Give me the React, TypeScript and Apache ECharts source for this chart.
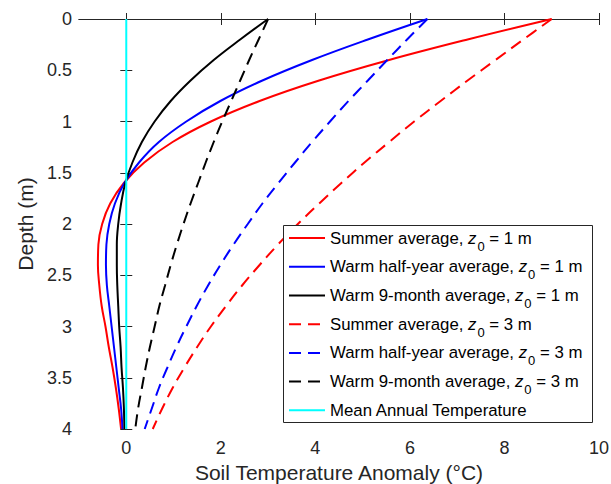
import React, { useEffect, useRef } from "react";
import * as echarts from "echarts";

// Depth (m) of each sampled point
const depths = [0, 0.2, 0.4, 0.6, 0.8, 1.0, 1.2, 1.4, 1.6, 1.8, 2.0, 2.2, 2.4, 2.6, 2.8, 3.0, 3.2, 3.4, 3.6, 3.8, 4.0];

// Soil temperature anomaly (°C), z0 = 1 m
const summer1 = [9.0, 7.22, 5.56, 4.08, 2.82, 1.79, 0.98, 0.38, -0.05, -0.34, -0.51, -0.59, -0.6, -0.57, -0.52, -0.44, -0.37, -0.29, -0.22, -0.16, -0.11];
const halfYear1 = [6.37, 5.11, 3.93, 2.88, 1.99, 1.27, 0.69, 0.27, -0.04, -0.24, -0.36, -0.42, -0.43, -0.41, -0.36, -0.31, -0.26, -0.21, -0.16, -0.11, -0.08];
const nineMonth1 = [3.0, 2.41, 1.85, 1.36, 0.94, 0.6, 0.33, 0.13, -0.02, -0.11, -0.17, -0.2, -0.2, -0.19, -0.17, -0.15, -0.12, -0.1, -0.07, -0.05, -0.04];

// Soil temperature anomaly (°C), z0 = 3 m
const summer3 = [9.0, 8.4, 7.81, 7.22, 6.65, 6.09, 5.56, 5.04, 4.55, 4.08, 3.63, 3.21, 2.82, 2.45, 2.11, 1.79, 1.5, 1.23, 0.98, 0.76, 0.56];
const halfYear3 = [6.37, 5.94, 5.52, 5.11, 4.7, 4.31, 3.93, 3.57, 3.22, 2.88, 2.57, 2.27, 1.99, 1.73, 1.49, 1.27, 1.06, 0.87, 0.69, 0.54, 0.39];
const nineMonth3 = [3.0, 2.8, 2.6, 2.41, 2.22, 2.03, 1.85, 1.68, 1.52, 1.36, 1.21, 1.07, 0.94, 0.82, 0.7, 0.6, 0.5, 0.41, 0.33, 0.25, 0.19];

// Mean annual temperature line
const meanDepths = [0, 4];
const meanValues = [0, 0];

const xTicks = [0, 2, 4, 6, 8, 10];

const seriesNames = [
  "Summer average, z0 = 1 m",
  "Warm half-year average, z0 = 1 m",
  "Warm 9-month average, z0 = 1 m",
  "Summer average, z0 = 3 m",
  "Warm half-year average, z0 = 3 m",
  "Warm 9-month average, z0 = 3 m",
  "Mean Annual Temperature",
];
const seriesColors = ["#ff0000", "#0000ff", "#000000", "#ff0000", "#0000ff", "#000000", "#00ffff"];
const seriesDashed = [false, false, false, true, true, true, false];

const AXIS = "#262626";
const FONT = "'Liberation Sans', Arial, Helvetica, sans-serif";
const LH = 28.2;

export default function App() {
  const ref = useRef<HTMLDivElement>(null);
  useEffect(() => {
    if (!ref.current) return;
    const chart = echarts.init(ref.current, null, { renderer: "svg" });
    const pair = (vals: number[], ds: number[]) => ds.map((d, i) => [vals[i], d]);
    const dash = [12, 7];
    const lineStyleOf = (i: number) => ({
      color: seriesColors[i],
      width: 2,
      type: seriesDashed[i] ? dash : "solid",
    });
    const mk = (i: number, vals: number[], ds = depths) => ({
      name: seriesNames[i],
      type: "line",
      data: pair(vals, ds),
      symbol: "none",
      smooth: 0.4,
      clip: true,
      itemStyle: { color: seriesColors[i] },
      lineStyle: lineStyleOf(i),
      emphasis: { disabled: true },
    });
    const axisLine = { show: true, lineStyle: { color: AXIS, width: 1 } };
    const tick = { show: true, inside: true, length: 6, lineStyle: { color: AXIS, width: 1 } };
    chart.setOption({
      animation: false,
      textStyle: { fontFamily: FONT },
      grid: { left: 79, right: 12, top: 19, bottom: 55, containLabel: false, outerBoundsMode: "none" },
      graphic: [
        {
          type: "rect",
          left: 283,
          top: 225,
          z: 5,
          shape: { width: 309, height: 197 },
          style: { fill: "#ffffff", stroke: AXIS, lineWidth: 1 },
        },
      ],
      xAxis: [
        {
          type: "value",
          min: -1,
          max: 10,
          position: "bottom",
          axisLine,
          axisTick: { ...tick, customValues: xTicks },
          axisLabel: { customValues: xTicks, color: AXIS, fontSize: 18, margin: 10, fontFamily: FONT },
          splitLine: { show: false },
          name: "Soil Temperature Anomaly (°C)",
          nameLocation: "middle",
          nameGap: 30,
          nameTextStyle: { color: AXIS, fontSize: 21, lineHeight: 21, fontFamily: FONT },
        },
        {
          type: "value",
          min: -1,
          max: 10,
          position: "top",
          axisLine,
          axisTick: { ...tick, customValues: xTicks },
          axisLabel: { show: false },
          splitLine: { show: false },
        },
      ],
      yAxis: [
        {
          type: "value",
          inverse: true,
          min: 0,
          max: 4,
          interval: 0.5,
          position: "left",
          axisLine,
          axisTick: tick,
          axisLabel: { color: AXIS, fontSize: 18, margin: 7, fontFamily: FONT },
          splitLine: { show: false },
          name: "Depth (m)",
          nameLocation: "middle",
          nameGap: 36,
          nameRotate: 90,
          nameTextStyle: { color: AXIS, fontSize: 21, fontFamily: FONT },
        },
        {
          type: "value",
          inverse: true,
          min: 0,
          max: 4,
          interval: 0.5,
          position: "right",
          axisLine,
          axisTick: tick,
          axisLabel: { show: false },
          splitLine: { show: false },
        },
      ],
      legend: {
        data: seriesNames.map((name, i) => ({
          name,
          lineStyle: lineStyleOf(i),
          itemStyle: { opacity: 0 },
        })),
        orient: "vertical",
        left: 283,
        top: 224,
        z: 10,
        padding: [0, 4, 0, 5],
        itemGap: 0,
        itemWidth: 36,
        itemHeight: 14,
        itemStyle: { opacity: 0 },
        selectedMode: false,
        formatter: (name: string) => name.replace("z0", "{i|z}{s|0}"),
        textStyle: {
          color: "#000000",
          fontSize: 16.8,
          lineHeight: LH,
          fontFamily: FONT,
          rich: {
            i: { fontStyle: "italic", fontSize: 16.8, lineHeight: LH, color: "#000000", fontFamily: FONT },
            s: { fontSize: 13, height: 12, lineHeight: LH, verticalAlign: "bottom", padding: [0, 0, 0, 1], color: "#000000", fontFamily: FONT },
          },
        },
      },
      series: [
        mk(0, summer1),
        mk(1, halfYear1),
        mk(2, nineMonth1),
        mk(3, summer3),
        mk(4, halfYear3),
        mk(5, nineMonth3),
        mk(6, meanValues, meanDepths),
      ],
    });
    return () => chart.dispose();
  }, []);
  return (
    <div
      ref={ref}
      style={{ position: "absolute", left: 0, top: 0, width: 611, height: 484, background: "#ffffff" }}
    />
  );
}
